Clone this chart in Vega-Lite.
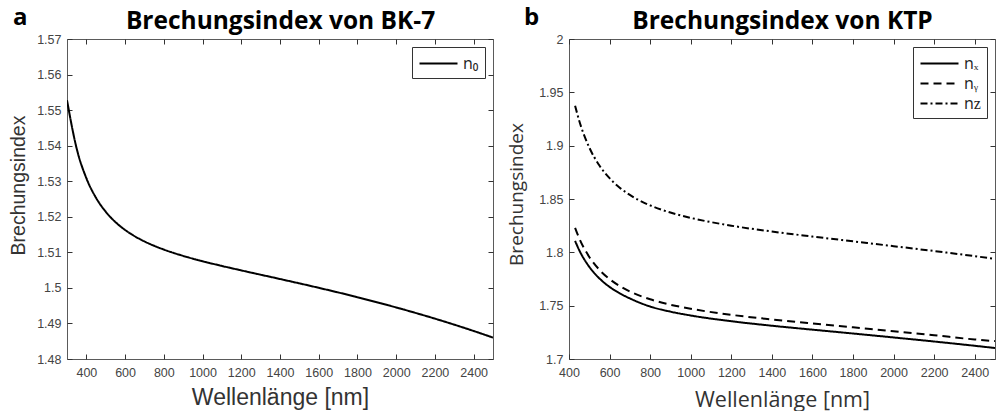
{
  "$schema": "https://vega.github.io/schema/vega-lite/v6.json",
  "padding": {"left": 7, "top": 5, "right": 0, "bottom": 0},
  "background": "white",
  "spacing": 12,
  "resolve": {"scale": {"strokeDash": "independent"}, "legend": {"strokeDash": "independent"}},
  "config": {
    "view": {"stroke": "#5a5a5a", "strokeWidth": 1},
    "axis": {"domain": false, "grid": false, "labelFlush": false, "tickColor": "#333333", "tickSize": -5, "tickWidth": 1, "labelFont": "Liberation Sans", "labelFontSize": 12.5, "labelColor": "#444444", "titleColor": "#333333", "titleFontWeight": "normal"},
    "legend": {"orient": "top-right", "offset": 8, "padding": 6, "strokeColor": "#333333", "fillColor": "white", "cornerRadius": 0, "title": null, "symbolType": "M-2,0H2", "symbolSize": 361, "symbolStrokeWidth": 2, "symbolStrokeColor": "black", "symbolFillColor": "transparent", "symbolOffset": 10, "labelOffset": 14, "labelFont": "Open Sans", "labelFontSize": 16, "labelColor": "#222222", "rowPadding": 1}
  },
  "hconcat": [
    {
      "width": 426,
      "height": 320,
      "title": {"text": "a", "anchor": "start", "frame": "group", "dx": -54, "offset": -41, "fontSize": 24, "font": "Open Sans", "fontWeight": "bold", "color": "black", "baseline": "alphabetic"},
      "data": {"values": [
        {"wl": 300, "n": 1.55277, "series": "n₀"},
        {"wl": 350, "n": 1.53917, "series": "n₀"},
        {"wl": 400, "n": 1.53085, "series": "n₀"},
        {"wl": 450, "n": 1.52532, "series": "n₀"},
        {"wl": 500, "n": 1.52142, "series": "n₀"},
        {"wl": 550, "n": 1.51852, "series": "n₀"},
        {"wl": 600, "n": 1.51630, "series": "n₀"},
        {"wl": 650, "n": 1.51452, "series": "n₀"},
        {"wl": 700, "n": 1.51306, "series": "n₀"},
        {"wl": 750, "n": 1.51184, "series": "n₀"},
        {"wl": 800, "n": 1.51078, "series": "n₀"},
        {"wl": 900, "n": 1.50900, "series": "n₀"},
        {"wl": 1000, "n": 1.50750, "series": "n₀"},
        {"wl": 1100, "n": 1.50617, "series": "n₀"},
        {"wl": 1200, "n": 1.50492, "series": "n₀"},
        {"wl": 1400, "n": 1.50250, "series": "n₀"},
        {"wl": 1600, "n": 1.50002, "series": "n₀"},
        {"wl": 1800, "n": 1.49738, "series": "n₀"},
        {"wl": 2000, "n": 1.49450, "series": "n₀"},
        {"wl": 2200, "n": 1.49135, "series": "n₀"},
        {"wl": 2400, "n": 1.48788, "series": "n₀"},
        {"wl": 2500, "n": 1.48602, "series": "n₀"}
      ]},
      "layer": [
        {
          "mark": {"type": "line", "color": "black", "strokeWidth": 2, "interpolate": "monotone", "clip": true},
          "encoding": {
            "x": {"field": "wl", "type": "quantitative", "scale": {"domain": [300, 2500], "nice": false, "zero": false},
                  "axis": {"values": [400, 600, 800, 1000, 1200, 1400, 1600, 1800, 2000, 2200, 2400], "format": "d", "labelPadding": 12, "title": "Wellenlänge [nm]", "titleFont": "Liberation Sans", "titleFontSize": 23, "titleY": 45, "titleBaseline": "alphabetic"}},
            "y": {"field": "n", "type": "quantitative", "scale": {"domain": [1.48, 1.57], "nice": false, "zero": false},
                  "axis": {"values": [1.48, 1.49, 1.5, 1.51, 1.52, 1.53, 1.54, 1.55, 1.56, 1.57], "format": "~g", "labelPadding": 11, "title": "Brechungsindex", "titleFont": "Liberation Sans", "titleFontSize": 19.5, "titleAngle": -90, "titleX": -43, "titleY": 146, "titleBaseline": "alphabetic", "titleAlign": "center"}},
            "strokeDash": {"field": "series", "type": "nominal", "scale": {"domain": ["n₀"], "range": [[1, 0]]}, "legend": {"title": null}}
          }
        },
        {
          "mark": {"type": "line", "opacity": 0},
          "encoding": {
            "x": {"field": "wl", "type": "quantitative", "axis": {"orient": "top", "labels": false, "values": [400, 600, 800, 1000, 1200, 1400, 1600, 1800, 2000, 2200, 2400], "title": "Brechungsindex von BK-7", "titleFont": "Open Sans", "titleFontWeight": "bold", "titleFontSize": 24.5, "titleColor": "black", "titleY": -11, "titleBaseline": "alphabetic"}},
            "y": {"field": "n", "type": "quantitative", "axis": {"orient": "right", "labels": false, "title": null, "values": [1.48, 1.49, 1.5, 1.51, 1.52, 1.53, 1.54, 1.55, 1.56, 1.57]}}
          }
        }
      ],
      "resolve": {"axis": {"x": "independent", "y": "independent"}}
    },
    {
      "width": 426,
      "height": 320,
      "title": {"text": "b", "anchor": "start", "frame": "group", "dx": -45, "offset": -41, "fontSize": 24, "font": "Open Sans", "fontWeight": "bold", "color": "black", "baseline": "alphabetic"},
      "data": {"values": [
        {"wl": 430, "n": 1.8107, "series": "nₓ"},
        {"wl": 450, "n": 1.8022, "series": "nₓ"},
        {"wl": 500, "n": 1.7864, "series": "nₓ"},
        {"wl": 550, "n": 1.7755, "series": "nₓ"},
        {"wl": 600, "n": 1.7676, "series": "nₓ"},
        {"wl": 650, "n": 1.7616, "series": "nₓ"},
        {"wl": 700, "n": 1.7568, "series": "nₓ"},
        {"wl": 800, "n": 1.7492, "series": "nₓ"},
        {"wl": 900, "n": 1.7444, "series": "nₓ"},
        {"wl": 1000, "n": 1.7408, "series": "nₓ"},
        {"wl": 1200, "n": 1.7354, "series": "nₓ"},
        {"wl": 1400, "n": 1.7312, "series": "nₓ"},
        {"wl": 1600, "n": 1.7275, "series": "nₓ"},
        {"wl": 1800, "n": 1.7239, "series": "nₓ"},
        {"wl": 2000, "n": 1.7202, "series": "nₓ"},
        {"wl": 2200, "n": 1.7164, "series": "nₓ"},
        {"wl": 2400, "n": 1.7124, "series": "nₓ"},
        {"wl": 2500, "n": 1.7103, "series": "nₓ"},
        {"wl": 430, "n": 1.8229, "series": "nᵧ"},
        {"wl": 450, "n": 1.8133, "series": "nᵧ"},
        {"wl": 500, "n": 1.7957, "series": "nᵧ"},
        {"wl": 550, "n": 1.7836, "series": "nᵧ"},
        {"wl": 600, "n": 1.7749, "series": "nᵧ"},
        {"wl": 650, "n": 1.7684, "series": "nᵧ"},
        {"wl": 700, "n": 1.7633, "series": "nᵧ"},
        {"wl": 800, "n": 1.7560, "series": "nᵧ"},
        {"wl": 900, "n": 1.7509, "series": "nᵧ"},
        {"wl": 1000, "n": 1.7471, "series": "nᵧ"},
        {"wl": 1200, "n": 1.7414, "series": "nᵧ"},
        {"wl": 1400, "n": 1.7371, "series": "nᵧ"},
        {"wl": 1600, "n": 1.7333, "series": "nᵧ"},
        {"wl": 1800, "n": 1.7297, "series": "nᵧ"},
        {"wl": 2000, "n": 1.7261, "series": "nᵧ"},
        {"wl": 2200, "n": 1.7223, "series": "nᵧ"},
        {"wl": 2400, "n": 1.7183, "series": "nᵧ"},
        {"wl": 2500, "n": 1.7168, "series": "nᵧ"},
        {"wl": 430, "n": 1.9375, "series": "nᴢ"},
        {"wl": 450, "n": 1.9236, "series": "nᴢ"},
        {"wl": 500, "n": 1.8983, "series": "nᴢ"},
        {"wl": 550, "n": 1.8814, "series": "nᴢ"},
        {"wl": 600, "n": 1.8695, "series": "nᴢ"},
        {"wl": 650, "n": 1.8606, "series": "nᴢ"},
        {"wl": 700, "n": 1.8538, "series": "nᴢ"},
        {"wl": 800, "n": 1.8440, "series": "nᴢ"},
        {"wl": 900, "n": 1.8373, "series": "nᴢ"},
        {"wl": 1000, "n": 1.8323, "series": "nᴢ"},
        {"wl": 1200, "n": 1.8250, "series": "nᴢ"},
        {"wl": 1400, "n": 1.8195, "series": "nᴢ"},
        {"wl": 1600, "n": 1.8148, "series": "nᴢ"},
        {"wl": 1800, "n": 1.8103, "series": "nᴢ"},
        {"wl": 2000, "n": 1.8058, "series": "nᴢ"},
        {"wl": 2200, "n": 1.8012, "series": "nᴢ"},
        {"wl": 2400, "n": 1.7964, "series": "nᴢ"},
        {"wl": 2500, "n": 1.7939, "series": "nᴢ"}
      ]},
      "layer": [
        {
          "mark": {"type": "line", "color": "black", "strokeWidth": 2, "interpolate": "monotone", "clip": true},
          "encoding": {
            "x": {"field": "wl", "type": "quantitative", "scale": {"domain": [400, 2500], "nice": false, "zero": false},
                  "axis": {"values": [400, 600, 800, 1000, 1200, 1400, 1600, 1800, 2000, 2200, 2400], "format": "d", "labelPadding": 12, "title": "Wellenlänge [nm]", "titleFont": "Open Sans", "titleFontSize": 21.5, "titleY": 47, "titleBaseline": "alphabetic"}},
            "y": {"field": "n", "type": "quantitative", "scale": {"domain": [1.7, 2], "nice": false, "zero": false},
                  "axis": {"values": [1.7, 1.75, 1.8, 1.85, 1.9, 1.95, 2], "format": "~g", "labelPadding": 11, "title": "Brechungsindex", "titleFont": "Open Sans", "titleFontSize": 19, "titleAngle": -90, "titleX": -47, "titleY": 155, "titleBaseline": "alphabetic", "titleAlign": "center"}},
            "strokeDash": {"field": "series", "type": "nominal", "scale": {"domain": ["nₓ", "nᵧ", "nᴢ"], "range": [[1, 0], [8, 5], [7, 3, 2, 3]]}, "legend": {"title": null}}
          }
        },
        {
          "mark": {"type": "line", "opacity": 0},
          "encoding": {
            "x": {"field": "wl", "type": "quantitative", "axis": {"orient": "top", "labels": false, "values": [400, 600, 800, 1000, 1200, 1400, 1600, 1800, 2000, 2200, 2400], "title": "Brechungsindex von KTP", "titleFont": "Open Sans", "titleFontWeight": "bold", "titleFontSize": 24.5, "titleColor": "black", "titleY": -11, "titleBaseline": "alphabetic"}},
            "y": {"field": "n", "type": "quantitative", "axis": {"orient": "right", "labels": false, "title": null, "values": [1.7, 1.75, 1.8, 1.85, 1.9, 1.95, 2]}},
            "detail": {"field": "series", "type": "nominal"}
          }
        }
      ],
      "resolve": {"axis": {"x": "independent", "y": "independent"}}
    }
  ]
}
